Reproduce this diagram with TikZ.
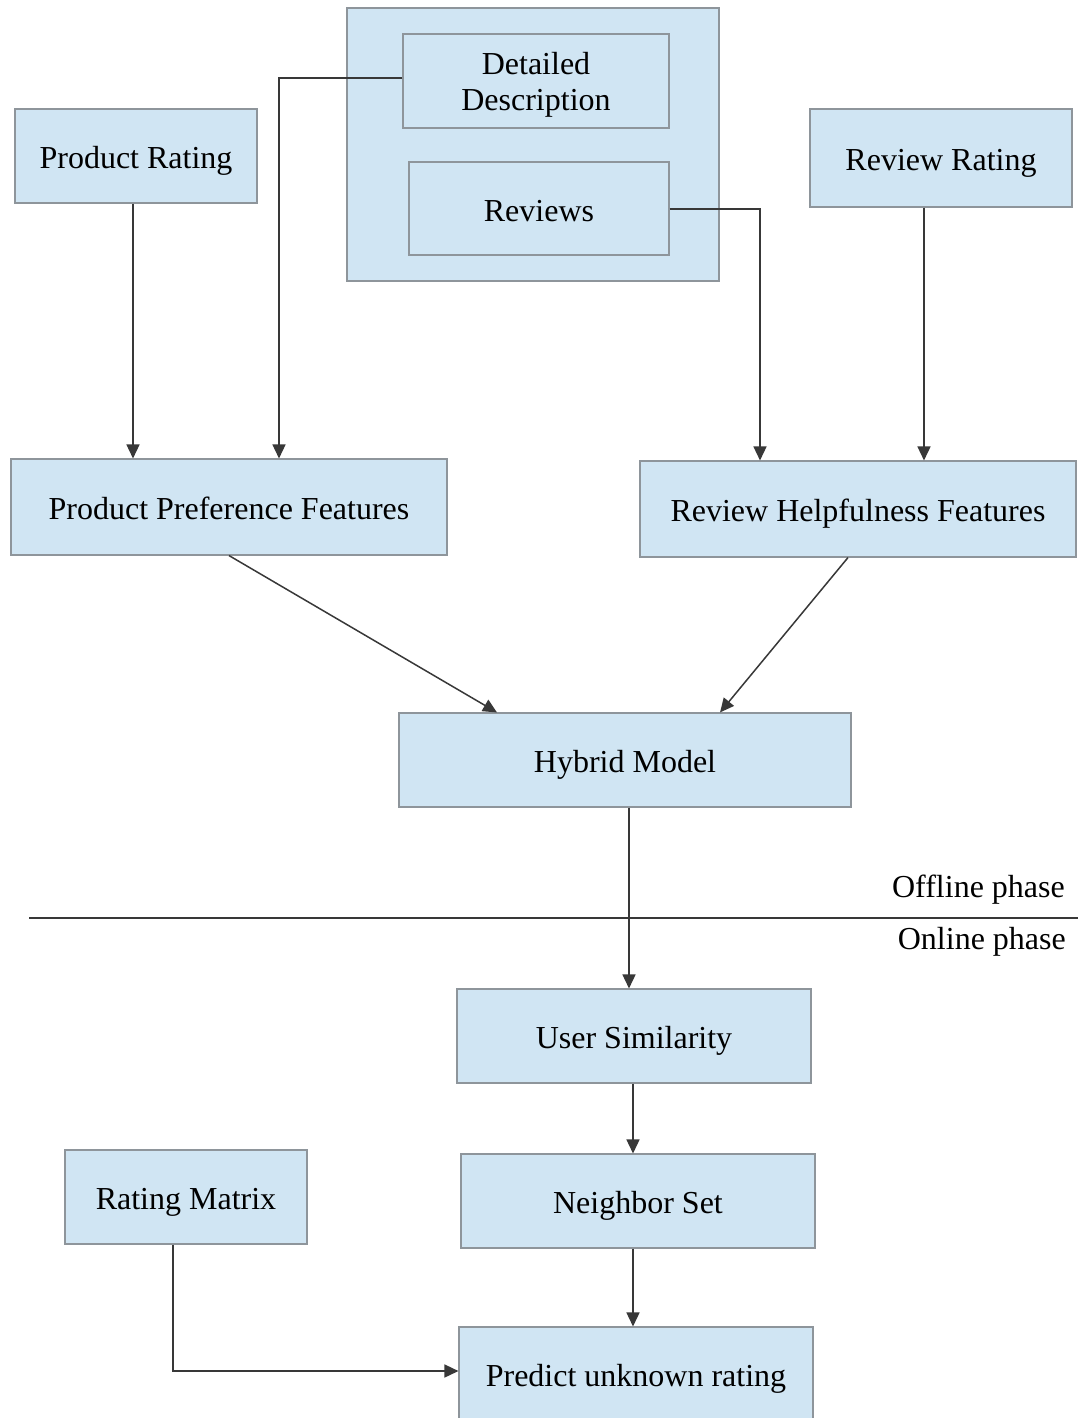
\documentclass[tikz,border=0pt]{standalone}
\usepackage{fontspec}
\setmainfont{Liberation Serif}
\usetikzlibrary{arrows.meta,calc}
\definecolor{boxfill}{HTML}{D0E5F3}
\definecolor{boxline}{HTML}{8E959B}
\definecolor{wire}{HTML}{383838}
\tikzset{
  blk/.style={draw=boxline, fill=boxfill, line width=1.1pt, inner sep=0pt,
              font=\fontsize{32}{36}\selectfont, align=center,
              text height=32pt, text depth=7pt},
  arr/.style={draw=wire, line width=1.5pt,
              -{Triangle[length=14pt,width=13pt]}},
  wirel/.style={draw=wire, line width=1.5pt},
  phase/.style={font=\fontsize{32}{36}\selectfont, inner sep=0pt}
}
\begin{document}
\begin{tikzpicture}[x=1pt,y=1pt]
\useasboundingbox (0,0) rectangle (1083,-1418);
\clip (0,0) rectangle (1083,-1418);

% source container with its two inner blocks
\node[blk, minimum width=372pt, minimum height=273pt] (src) at (533,-144.5) {};
\node[blk, minimum width=266pt, minimum height=94pt, text height=66pt, text depth=6pt] (dd) at (536,-81) {Detailed\\Description};
\node[blk, minimum width=260pt, minimum height=93pt] (rev) at (539,-208.5) {Reviews};

% top row inputs
\node[blk, minimum width=242pt, minimum height=94pt] (pr) at (136,-156) {Product Rating};
\node[blk, minimum width=262pt, minimum height=98pt] (rr) at (941,-158) {Review Rating};

% feature blocks
\node[blk, minimum width=436pt, minimum height=96pt] (ppf) at (229,-507) {Product Preference Features};
\node[blk, minimum width=436pt, minimum height=96pt] (rhf) at (858,-509) {Review Helpfulness Features};

% model
\node[blk, minimum width=452pt, minimum height=94pt] (hm) at (625,-760) {Hybrid Model};

% online part
\node[blk, minimum width=354pt, minimum height=94pt] (us) at (634,-1036) {User Similarity};
\node[blk, minimum width=242pt, minimum height=94pt] (rm) at (186,-1197) {Rating Matrix};
\node[blk, minimum width=354pt, minimum height=94pt] (ns) at (638,-1201) {Neighbor Set};
\node[blk, minimum width=354pt, minimum height=94pt] (pur) at (636,-1374) {Predict unknown rating};

% phase divider
\coordinate (divl) at (29,-918);
\coordinate (divr) at (1078,-918);
\draw[wirel] (divl) -- (divr);
\node[phase, anchor=east] (off) at (1065,-890) {Offline phase};
\node[phase, anchor=east] (on) at (1066,-942) {Online phase};

% connectors
\draw[arr] ([xshift=-3pt]pr.south) -- ([xshift=-3pt]pr.south |- ppf.north);
\draw[arr] ([yshift=3pt]dd.west) -| ([xshift=50pt]ppf.north);
\draw[arr] ([yshift=-0.5pt]rev.east) -| ([xshift=-98pt]rhf.north);
\draw[arr] ([xshift=-17pt]rr.south) -- ([xshift=-17pt]rr.south |- rhf.north);
\draw[arr] (ppf.south) -- ([xshift=-128pt]hm.north);
\draw[arr] ([xshift=-10pt]rhf.south) -- ([xshift=95pt]hm.north);
\draw[arr] ([xshift=4pt]hm.south) -- ([xshift=4pt]hm.south |- us.north);
\draw[arr] ([xshift=-1pt]us.south) -- ([xshift=-1pt]us.south |- ns.north);
\draw[arr] ([xshift=-5pt]ns.south) -- ([xshift=-5pt]ns.south |- pur.north);
\draw[arr] ([xshift=-13pt]rm.south) |- ([yshift=3pt]pur.west);
\end{tikzpicture}
\end{document}
